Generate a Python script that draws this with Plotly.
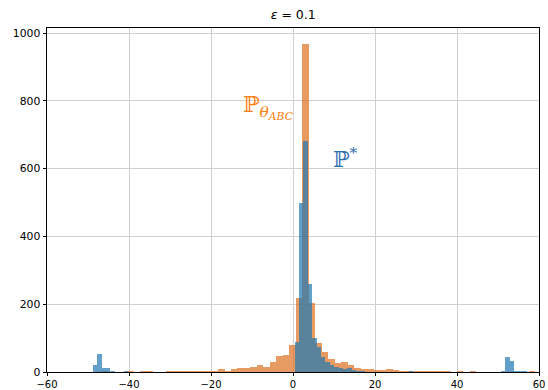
import plotly.graph_objects as go

# ---- data (histogram bins) ----
blue_centers = [-48.29, -47.22, -46.15, -45.08, -44.01, -40.80,
                0.935, 2.005, 3.075, 4.145, 5.215, 6.285, 7.355, 8.425, 9.495,
                10.565, 11.635, 12.705, 13.775, 14.845, 15.915, 16.985, 18.055,
                19.125, 21.265, 28.755,
                51.225, 52.295, 53.365, 54.435, 55.505, 56.575, 57.645]
blue_counts = [20, 52, 11, 11, 3, 4,
               90, 500, 682, 259, 100, 75, 45, 30, 20,
               16, 12, 10, 12, 5, 4, 2, 1,
               1, 1, 4,
               3, 44, 33, 3, 3, 2, 1]
blue_bin_width = 1.07

orange_centers = [-45.93, -39.61, -36.42, -34.84,
                  -30.13, -28.55, -26.97, -25.39, -23.81, -22.23, -20.65, -19.07,
                  -17.49, -15.91, -14.33, -12.75, -11.17, -9.59, -8.01, -6.43,
                  -4.85, -3.27, -1.69, -0.11, 1.47, 3.05, 4.63, 6.21, 7.79, 9.37,
                  10.95, 12.53, 14.11, 15.69, 17.27, 18.85, 20.43, 22.01, 23.59,
                  25.17, 26.75, 28.33, 29.91, 31.49, 33.07, 34.65, 36.23, 37.81,
                  40.71, 43.87, 58.35]
orange_counts = [3, 3, 4, 4,
                 4, 3, 4, 4, 3, 4, 4, 4,
                 8, 4, 8, 12, 12, 16, 20, 16,
                 30, 47, 51, 81, 218, 967, 203, 86, 58, 39,
                 26, 29, 20, 13, 10, 8, 5, 5, 8,
                 5, 4, 4, 3, 4, 3, 4, 3, 4,
                 3, 3, 3]
orange_bin_width = 1.58

x_ticks = [-60, -40, -20, 0, 20, 40, 60]
y_ticks = [0, 200, 400, 600, 800, 1000]
title_text = "<i>ε</i> = 0.1"
label_orange = "ℙ<sub><i>θ<sub>ABC</sub></i></sub>"
label_blue = "ℙ<sup>*</sup>"

C_BLUE = "rgba(31,119,180,0.7)"
C_ORANGE = "rgba(221,112,32,0.7)"

fig = go.Figure()
fig.add_trace(go.Bar(x=orange_centers, y=orange_counts,
                     width=[orange_bin_width] * len(orange_centers),
                     marker=dict(color=C_ORANGE, line=dict(width=0)),
                     showlegend=False, hoverinfo="skip"))
fig.add_trace(go.Bar(x=blue_centers, y=blue_counts,
                     width=[blue_bin_width] * len(blue_centers),
                     marker=dict(color=C_BLUE, line=dict(width=0)),
                     showlegend=False, hoverinfo="skip"))

fig.add_annotation(x=-12.6, y=780, text=label_orange, showarrow=False,
                   xanchor="left", yanchor="middle",
                   font=dict(family="DejaVu Serif", size=22, color="#ff7f0e"))
fig.add_annotation(x=9.2, y=630, text=label_blue, showarrow=False,
                   xanchor="left", yanchor="middle",
                   font=dict(family="DejaVu Serif", size=22, color="#2a6db0"))

axis_common = dict(showline=True, linecolor="black", linewidth=1, mirror=True,
                   ticks="outside", tickwidth=1, tickcolor="black",
                   showgrid=True, gridcolor="#d0d0d0", gridwidth=1,
                   zeroline=False, automargin=False)

fig.update_layout(
    width=548, height=390,
    margin=dict(l=47, r=9, t=28, b=18, autoexpand=False),
    paper_bgcolor="white", plot_bgcolor="white",
    barmode="overlay", bargap=0,
    title=dict(text=title_text, x=0.535, xanchor="center", y=0.962,
               yanchor="middle", yref="container",
               font=dict(family="DejaVu Sans", size=12.5, color="black")),
    xaxis=dict(range=[-60, 60], tickvals=x_ticks, ticklen=3,
               tickfont=dict(family="DejaVu Sans", size=10, color="black"),
               **axis_common),
    yaxis=dict(range=[0, 1015], tickvals=y_ticks, ticklen=3.5,
               tickfont=dict(family="DejaVu Sans", size=10.8, color="black"),
               **axis_common),
)

fig.write_html("out.html")
